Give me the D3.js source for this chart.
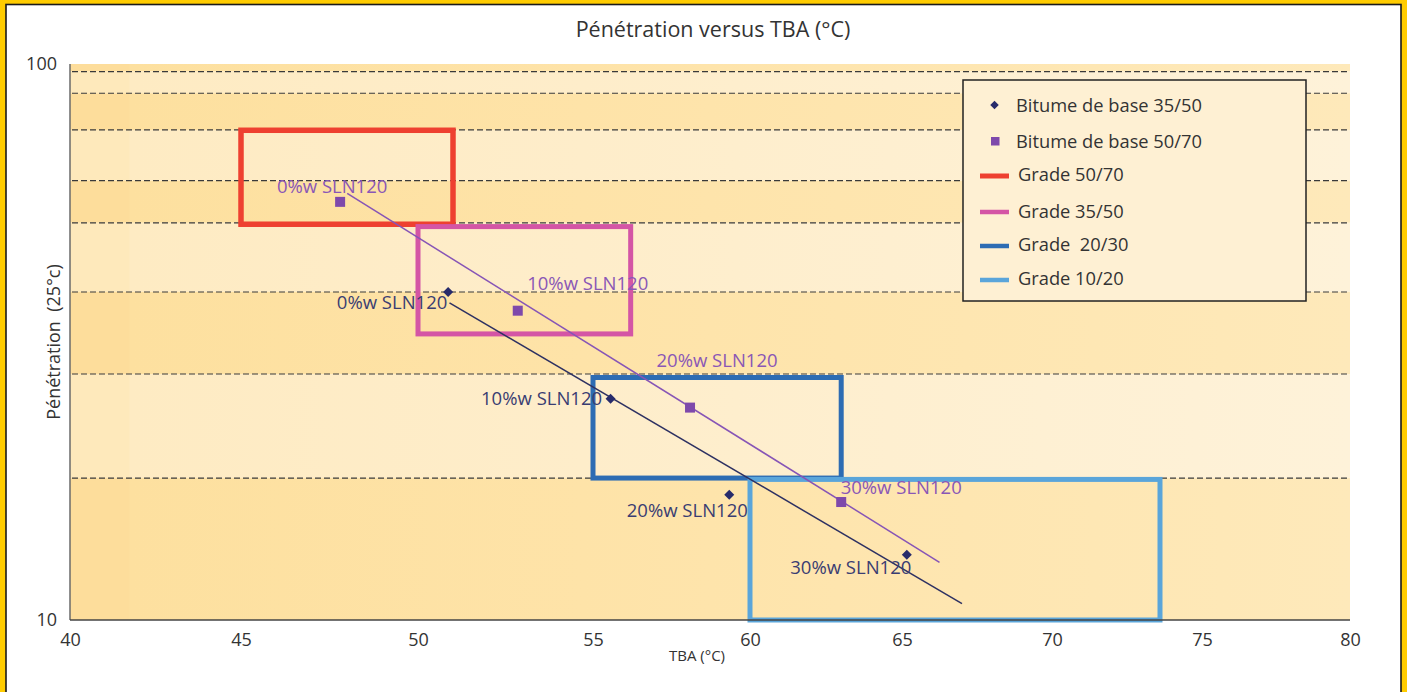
<!DOCTYPE html>
<html>
<head>
<meta charset="utf-8">
<script src="https://cdn.jsdelivr.net/npm/d3@7"></script>
<style>
  html, body { margin: 0; padding: 0; background: #FFCC00; }
  svg { display: block; font-family: "Open Sans", "Noto Sans", sans-serif; }
</style>
</head>
<body>
<svg id="chart" width="1407" height="692"></svg>
<script>
// ---------------- DATA ----------------
const xTicks = [40, 45, 50, 55, 60, 65, 70, 75, 80];
const yTicks = [10, 100];
const gridValues = [96.9, 88.6, 76.1, 61.7, 51.8, 38.9, 27.7, 18.0];

const labels = ["0%w SLN120", "10%w SLN120", "20%w SLN120", "30%w SLN120"];
// Bitume de base 35/50 (diamonds)
const tba3550 = [50.86, 55.56, 59.34, 65.16];
const pen3550 = [38.9, 25.0, 16.8, 13.1];
// Bitume de base 50/70 (squares)
const tba5070 = [47.8, 52.85, 58.09, 63.0];
const pen5070 = [56.5, 36.0, 24.1, 16.3];
// trend lines (start / end)
const trend3550x = [50.9, 67.0];
const trend3550y = [37.2, 10.7];
const trend5070x = [48.0, 66.25];
const trend5070y = [58.5, 12.7];

// Grade boxes
const gradeNames = ["Grade 50/70", "Grade 35/50", "Grade  20/30", "Grade 10/20"];
const gradeTbaMin = [45, 50, 55, 60];
const gradeTbaMax = [51.0, 56.2, 63.0, 73.6];
const gradePenMin = [51.5, 32.7, 18.0, 10];
const gradePenMax = [76.0, 51.0, 27.3, 17.9];
const seriesNames = ["Bitume de base 35/50", "Bitume de base 50/70"];

// ---------------- LAYOUT / STYLE ----------------
const W = 1407, H = 692;
const xTickPx = [70, 241, 418, 593, 750, 902, 1052, 1202, 1350];
const plotTop = 64, plotBottom = 620, plotLeft = 70, plotRight = 1350;
const gradeColors = ["#EE4030", "#D455A5", "#2D6CB3", "#5AA5DA"];
const gradeWidths = [5.5, 5, 5, 5];
const navy = "#272B6B", navyText = "#3A3D72", purple = "#7E49AB", purpleText = "#8A57B6";
const labelOff3550 = [[-56, 17], [-69, 6], [-42, 22], [-56, 19]];
const labelOff5070 = [[-8, -9], [70, -21], [27, -41], [60, -8]];

const svg = d3.select("#chart");

// Frame
svg.append("rect").attr("x", 0).attr("y", 0).attr("width", W).attr("height", H).attr("fill", "#FFCC00");
svg.append("rect").attr("x", 6).attr("y", 4.5).attr("width", 1395).attr("height", H + 10)
  .attr("fill", "#ffffff").attr("stroke", "#1a1a1a").attr("stroke-width", 1.6);

const x = d3.scaleLinear().domain(xTicks).range(xTickPx);
const y = d3.scaleLog().domain([10, 100]).range([plotBottom, plotTop]);

// Gradients
const defs = svg.append("defs");
function grad(id, c0, c1, c2, c3) {
  const g = defs.append("linearGradient").attr("id", id).attr("x1", 0).attr("x2", 1).attr("y1", 0).attr("y2", 0);
  g.append("stop").attr("offset", "0%").attr("stop-color", c0);
  g.append("stop").attr("offset", "4.6%").attr("stop-color", c0);
  g.append("stop").attr("offset", "4.7%").attr("stop-color", c1);
  g.append("stop").attr("offset", "40%").attr("stop-color", c2);
  g.append("stop").attr("offset", "100%").attr("stop-color", c3);
}
grad("gDark", "#FDDD9B", "#FDE09F", "#FEE3A8", "#FEE9BA");
grad("gLight", "#FEE9BB", "#FEEBC3", "#FEEDCA", "#FEF2D9");

// Bands
const bounds = [100].concat(gridValues).concat([10]);
const bandData = d3.range(bounds.length - 1).map(i => ({ top: bounds[i], bot: bounds[i + 1], dark: i % 2 === 0 }));
svg.append("g").selectAll("rect").data(bandData).join("rect")
  .attr("x", plotLeft).attr("width", plotRight - plotLeft)
  .attr("y", d => y(d.top)).attr("height", d => y(d.bot) - y(d.top))
  .attr("fill", d => d.dark ? "url(#gDark)" : "url(#gLight)");

// Grid lines
svg.append("g").selectAll("line").data(gridValues).join("line")
  .attr("x1", plotLeft + 2).attr("x2", plotRight)
  .attr("y1", d => y(d)).attr("y2", d => y(d))
  .attr("stroke", "#3a3a3a").attr("stroke-width", 1.2).attr("stroke-dasharray", "6,3");

// Grade boxes
svg.append("g").selectAll("rect").data(gradeNames).join("rect")
  .attr("x", (d, i) => x(gradeTbaMin[i]))
  .attr("y", (d, i) => y(gradePenMax[i]))
  .attr("width", (d, i) => x(gradeTbaMax[i]) - x(gradeTbaMin[i]))
  .attr("height", (d, i) => y(gradePenMin[i]) - y(gradePenMax[i]))
  .attr("fill", "none")
  .attr("stroke", (d, i) => gradeColors[i])
  .attr("stroke-width", (d, i) => gradeWidths[i]);

// Trend lines
const line = d3.line().x(d => x(d[0])).y(d => y(d[1]));
svg.append("path").attr("d", line(d3.zip(trend5070x, trend5070y)))
  .attr("fill", "none").attr("stroke", "#8755B6").attr("stroke-width", 1.5);
svg.append("path").attr("d", line(d3.zip(trend3550x, trend3550y)))
  .attr("fill", "none").attr("stroke", "#2E3162").attr("stroke-width", 1.5);

// Markers
const diamond = d3.symbol().type(d3.symbolSquare).size(50);
svg.append("g").selectAll("path").data(d3.zip(tba3550, pen3550)).join("path")
  .attr("d", diamond)
  .attr("transform", d => `translate(${x(d[0])},${y(d[1])}) rotate(45)`)
  .attr("fill", navy);
svg.append("g").selectAll("rect").data(d3.zip(tba5070, pen5070)).join("rect")
  .attr("x", d => x(d[0]) - 5).attr("y", d => y(d[1]) - 5)
  .attr("width", 10).attr("height", 10).attr("fill", purple);

// Labels
svg.append("g").selectAll("text").data(labels).join("text")
  .attr("x", (d, i) => x(tba5070[i]) + labelOff5070[i][0])
  .attr("y", (d, i) => y(pen5070[i]) + labelOff5070[i][1])
  .attr("text-anchor", "middle").attr("font-size", 18.5).attr("fill", purpleText)
  .text(d => d);
svg.append("g").selectAll("text").data(labels).join("text")
  .attr("x", (d, i) => x(tba3550[i]) + labelOff3550[i][0])
  .attr("y", (d, i) => y(pen3550[i]) + labelOff3550[i][1])
  .attr("text-anchor", "middle").attr("font-size", 18.5).attr("fill", navyText)
  .text(d => d);

// Axes lines
svg.append("line").attr("x1", plotLeft).attr("x2", plotLeft).attr("y1", plotTop).attr("y2", plotBottom)
  .attr("stroke", "#6a6a6a").attr("stroke-width", 1.5);
svg.append("line").attr("x1", plotLeft).attr("x2", plotRight).attr("y1", plotBottom).attr("y2", plotBottom)
  .attr("stroke", "#444").attr("stroke-width", 1.6);

// Axes ticks
const xAxis = svg.append("g").attr("transform", `translate(0,${plotBottom})`)
  .call(d3.axisBottom(x).tickValues(xTicks).tickSize(0).tickPadding(13).tickFormat(d3.format("d")));
xAxis.select(".domain").remove();
xAxis.selectAll("text").attr("font-size", 18).attr("fill", "#333").attr("font-family", "Open Sans");

const yAxis = svg.append("g").attr("transform", `translate(${plotLeft},0)`)
  .call(d3.axisLeft(y).tickValues(yTicks).tickSize(0).tickPadding(13).tickFormat(d3.format("d")));
yAxis.select(".domain").remove();
yAxis.selectAll("text").attr("font-size", 18).attr("fill", "#333").attr("font-family", "Open Sans");

// Titles
svg.append("text").attr("x", 713).attr("y", 37).attr("text-anchor", "middle")
  .attr("font-size", 21.5).attr("fill", "#333").text("Pénétration versus TBA (°C)");
svg.append("text").attr("x", 697).attr("y", 661).attr("text-anchor", "middle")
  .attr("font-size", 15).attr("fill", "#333").text("TBA (°C)");
svg.append("text").attr("transform", "translate(60,342) rotate(-90)").attr("text-anchor", "middle")
  .attr("font-size", 18).attr("fill", "#333").attr("xml:space", "preserve")
  .style("white-space", "pre").text("Pénétration  (25°c)");

// Legend
const lg = svg.append("g");
lg.append("rect").attr("x", 963).attr("y", 80).attr("width", 343).attr("height", 221)
  .attr("fill", "#FEF0D3").attr("stroke", "#222").attr("stroke-width", 1.5);
lg.append("path").attr("d", d3.symbol().type(d3.symbolSquare).size(36))
  .attr("transform", "translate(994.5,105) rotate(45)").attr("fill", navy);
lg.append("rect").attr("x", 991).attr("y", 137).attr("width", 8.5).attr("height", 8.5).attr("fill", purple);
const legTextY = [111.5, 147.5];
lg.selectAll("text.s").data(seriesNames).join("text").attr("class", "s")
  .attr("x", 1016).attr("y", (d, i) => legTextY[i])
  .attr("font-size", 18.3).attr("fill", "#333").text(d => d);
const legLineY = [176, 212, 246, 280];
const legGradeTextY = [181, 217.5, 251, 284.5];
lg.selectAll("line").data(gradeNames).join("line")
  .attr("x1", 980).attr("x2", 1009)
  .attr("y1", (d, i) => legLineY[i]).attr("y2", (d, i) => legLineY[i])
  .attr("stroke", (d, i) => gradeColors[i]).attr("stroke-width", (d, i) => gradeWidths[i] - 0.5);
lg.selectAll("text.g").data(gradeNames).join("text").attr("class", "g")
  .attr("x", 1018).attr("y", (d, i) => legGradeTextY[i])
  .attr("font-size", 18.3).attr("fill", "#333").attr("xml:space", "preserve")
  .style("white-space", "pre").text(d => d);
</script>
</body>
</html>
